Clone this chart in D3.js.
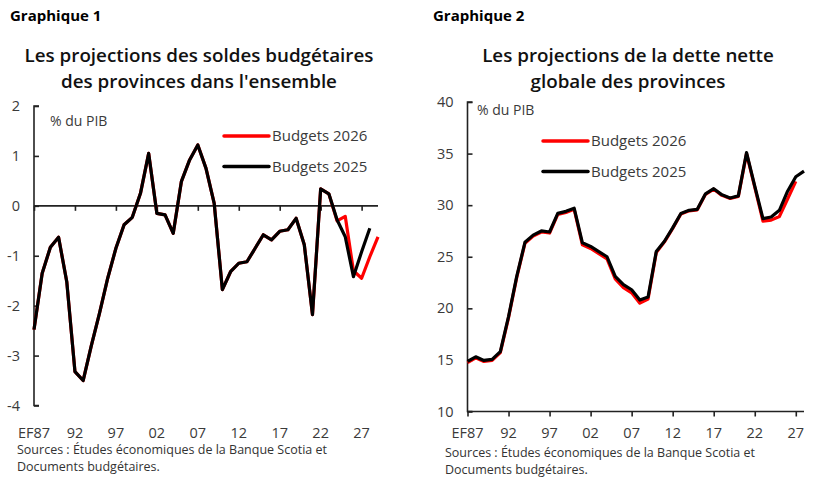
<!DOCTYPE html>
<html>
<head>
<meta charset="utf-8">
<script src="https://cdn.jsdelivr.net/npm/d3@7"></script>
<style>
  body { margin: 0; background: #fff; }
  svg text { font-family: "Open Sans", "Noto Sans", sans-serif; }
</style>
</head>
<body>
<div id="chart"></div>
<script>
// years for each series
yearsSoldes2026 = d3.range(1987, 2030)
yearsSoldes2025 = d3.range(1987, 2029)
yearsDette2026 = d3.range(1987, 2028)
yearsDette2025 = d3.range(1987, 2029)

xTickYears = [1987, 1992, 1997, 2002, 2007, 2012, 2017, 2022, 2027]
xTickLabels = ["EF87", "92", "97", "02", "07", "12", "17", "22", "27"]

// Graphique 1 - soldes budgetaires, % du PIB
soldes2025 = [-2.48, -1.35, -0.83, -0.63, -1.52, -3.32, -3.50, -2.80, -2.15, -1.45,
  -0.85, -0.38, -0.23, 0.25, 1.05, -0.15, -0.18, -0.55, 0.49, 0.92,
  1.22, 0.75, 0.05, -1.68, -1.32, -1.15, -1.12, -0.85, -0.58, -0.68,
  -0.51, -0.48, -0.25, -0.78, -2.18, 0.34, 0.24, -0.28, -0.62, -1.42,
  -0.92, -0.45]
soldes2026 = [-2.48, -1.35, -0.83, -0.63, -1.52, -3.32, -3.50, -2.80, -2.15, -1.45,
  -0.85, -0.38, -0.23, 0.25, 1.05, -0.15, -0.18, -0.55, 0.49, 0.92,
  1.22, 0.75, 0.05, -1.68, -1.32, -1.15, -1.12, -0.85, -0.58, -0.68,
  -0.51, -0.48, -0.25, -0.78, -2.18, 0.34, 0.24, -0.30, -0.21, -1.30,
  -1.45, -1.02, -0.62]

// Graphique 2 - dette nette, % du PIB
dette2025 = [14.85, 15.3, 14.95, 15.05, 15.8, 19.2, 23.1, 26.4, 27.1, 27.5,
  27.4, 29.2, 29.4, 29.7, 26.35, 26.0, 25.5, 25.0, 23.1, 22.3,
  21.8, 20.8, 21.1, 25.5, 26.5, 27.8, 29.2, 29.5, 29.6, 31.1,
  31.6, 31.0, 30.7, 30.9, 35.1, 31.85, 28.7, 28.85, 29.5, 31.35,
  32.75, 33.3]
dette2026 = [14.75, 15.2, 14.85, 14.95, 15.7, 19.1, 23.0, 26.3, 27.0, 27.4,
  27.3, 29.1, 29.3, 29.6, 26.15, 25.8, 25.3, 24.8, 22.85, 22.0,
  21.5, 20.5, 20.9, 25.4, 26.45, 27.75, 29.15, 29.45, 29.55, 31.05,
  31.55, 30.95, 30.65, 30.85, 35.0, 31.75, 28.45, 28.55, 28.9, 30.6,
  32.3]

yTicksSoldes = [-4, -3, -2, -1, 0, 1, 2]
yTicksDette = [10, 15, 20, 25, 30, 35, 40]

const RED = "#ff0000"
const BLACK = "#000000"

const svg = d3.select("#chart").append("svg")
  .attr("width", 828)
  .attr("height", 483)

function drawPanel(opt) {
  const g = svg.append("g")

  const x = d3.scaleLinear().domain(opt.xDomain).range(opt.xRange)
  const y = d3.scaleLinear().domain(opt.yDomain).range(opt.yRange)

  // chart number + title
  g.append("text").attr("x", opt.numX).attr("y", 21)
    .style("font-size", "15px").style("font-weight", "700").attr("fill", "#000")
    .text(opt.num)
  opt.title.forEach((t, i) => {
    g.append("text").attr("x", opt.titleX).attr("y", 62 + i * 26)
      .attr("text-anchor", "middle")
      .style("font-size", "18.8px").style("font-weight", "600").attr("fill", "#111")
      .text(t)
  })

  // y axis (ticks pointing inside)
  const yAxis = g.append("g")
    .attr("transform", `translate(${opt.xRange[0]},0)`)
    .call(d3.axisRight(y).tickValues(opt.yTicks).tickSize(5).tickFormat(""))
  yAxis.select(".domain").attr("d", `M5,${opt.yRange[0]}H0V${opt.yRange[1]}H5`)
  yAxis.selectAll("line, path").attr("stroke", "#222").attr("stroke-width", 1.6)

  g.selectAll(".ylab").data(opt.yTicks).join("text")
    .attr("x", opt.xRange[0] - 14).attr("y", d => y(d) + 5)
    .attr("text-anchor", "end")
    .style("font-size", "14.5px").attr("fill", "#3a3a3a")
    .text(d => d)

  // x axis line at baseline value, labels at the bottom
  const xAxis = g.append("g")
    .attr("transform", `translate(0,${y(opt.xAxisAt)})`)
    .call(d3.axisBottom(x).tickValues(xTickYears).tickSize(5).tickSizeOuter(0).tickFormat(""))
  xAxis.select(".domain").attr("d", `M${opt.xRange[0]},0H${opt.xRange[1]}`)
  xAxis.selectAll("line, path").attr("stroke", "#222").attr("stroke-width", 1.6)

  g.selectAll(".xlab").data(xTickYears).join("text")
    .attr("x", d => x(d)).attr("y", 438)
    .attr("text-anchor", "middle")
    .style("font-size", "14.5px").attr("fill", "#3a3a3a")
    .text((d, i) => xTickLabels[i])

  g.append("text").attr("x", opt.unitX).attr("y", opt.unitY)
    .style("font-size", "14px").attr("fill", "#3a3a3a").text("% du PIB")

  // lines: red under black
  const line = d3.line().x(d => x(d[0])).y(d => y(d[1]))
  const sets = [
    { yrs: opt.years26, vals: opt.vals26, color: RED },
    { yrs: opt.years25, vals: opt.vals25, color: BLACK }
  ]
  sets.forEach(s => {
    g.append("path")
      .datum(s.yrs.map((yr, i) => [yr, s.vals[i]]))
      .attr("fill", "none").attr("stroke", s.color)
      .attr("stroke-width", 3.2).attr("stroke-linejoin", "round")
      .attr("d", line)
  })

  // legend
  const leg = [["Budgets 2026", RED], ["Budgets 2025", BLACK]]
  leg.forEach((l, i) => {
    const ly = opt.legY + i * 30.5
    g.append("line").attr("x1", opt.legX).attr("x2", opt.legX + 45)
      .attr("y1", ly).attr("y2", ly)
      .attr("stroke", l[1]).attr("stroke-width", 3.5).attr("stroke-linecap", "round")
    g.append("text").attr("x", opt.legX + 48).attr("y", ly + 5)
      .style("font-size", "15px").attr("fill", "#3a3a3a").text(l[0])
  })

  // sources
  const src = ["Sources : Études économiques de la Banque Scotia et", "Documents budgétaires."]
  src.forEach((s, i) => {
    g.append("text").attr("x", opt.srcX).attr("y", opt.srcY + i * 17)
      .style("font-size", "12.5px").attr("fill", "#333").text(s)
  })
}

drawPanel({
  num: "Graphique 1", numX: 10,
  title: ["Les projections des soldes budgétaires", "des provinces dans l'ensemble"], titleX: 199,
  xDomain: [1987, 2029], xRange: [34, 378],
  yDomain: [-4, 2], yRange: [405.5, 106], yTicks: yTicksSoldes, xAxisAt: 0,
  years25: yearsSoldes2025, vals25: soldes2025,
  years26: yearsSoldes2026, vals26: soldes2026,
  unitX: 50, unitY: 126,
  legX: 224, legY: 136,
  srcX: 17, srcY: 454
})

drawPanel({
  num: "Graphique 2", numX: 433,
  title: ["Les projections de la dette nette", "globale des provinces"], titleX: 628,
  xDomain: [1987, 2028], xRange: [467.5, 804],
  yDomain: [10, 40], yRange: [411.5, 102], yTicks: yTicksDette, xAxisAt: 10,
  years25: yearsDette2025, vals25: dette2025,
  years26: yearsDette2026, vals26: dette2026,
  unitX: 477, unitY: 115,
  legX: 543, legY: 141,
  srcX: 445, srcY: 457
})
</script>
</body>
</html>
